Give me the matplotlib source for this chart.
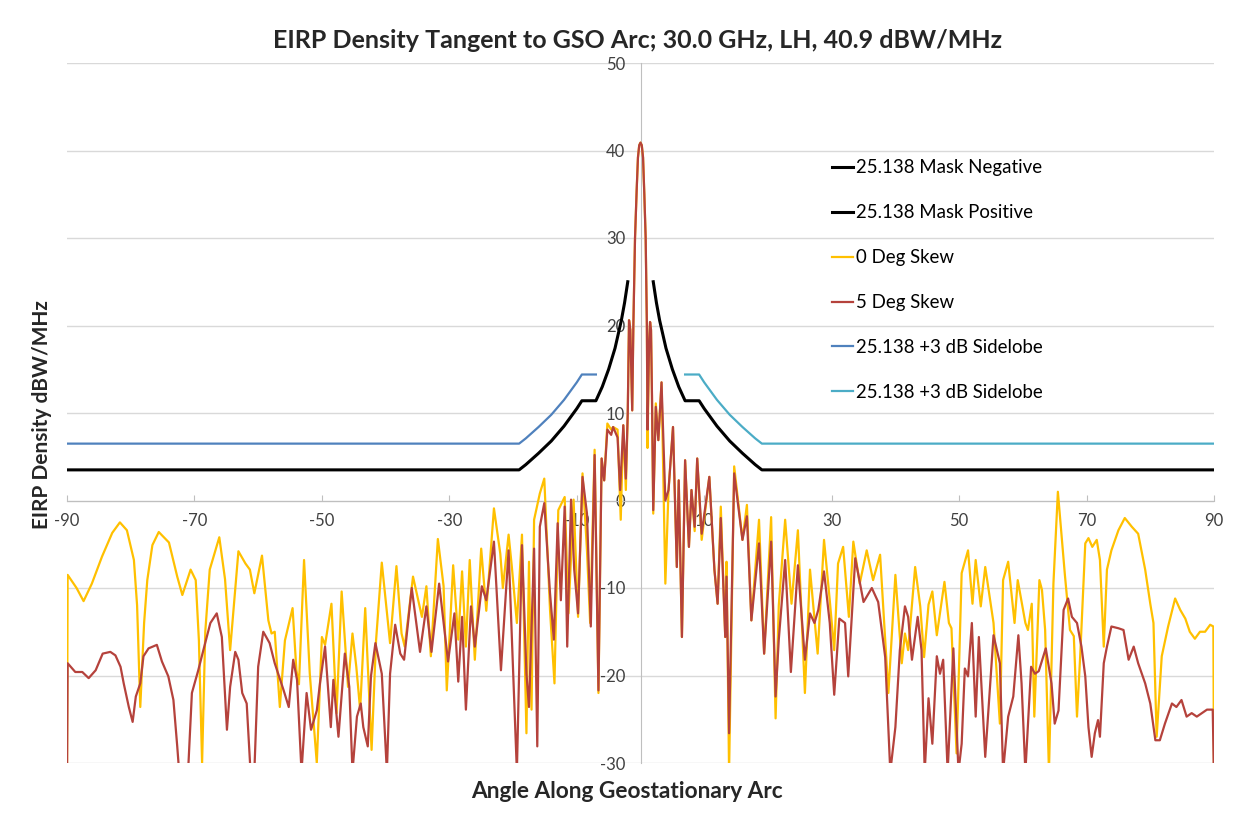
import matplotlib
matplotlib.use("Agg")
import matplotlib.pyplot as plt

plt.rcParams['font.family'] = ['Lato', 'DejaVu Sans']
plt.rcParams['axes.unicode_minus'] = False

title = "EIRP Density Tangent to GSO Arc; 30.0 GHz, LH, 40.9 dBW/MHz"
xlabel = "Angle Along Geostationary Arc"
ylabel = "EIRP Density dBW/MHz"
labels = ["25.138 Mask Negative", "25.138 Mask Positive", "0 Deg Skew",
          "5 Deg Skew", "25.138 +3 dB Sidelobe", "25.138 +3 dB Sidelobe"]
xticks = [-90, -70, -50, -30, -10, 10, 30, 50, 70, 90]
yticks = [-30, -20, -10, 0, 10, 20, 30, 40, 50]

mask_neg_x = [-90, -19.05, -18, -16, -14, -12, -10, -9.2, -7, -6, -5, -4, -3, -2.5, -2]
mask_neg_y = [3.5, 3.5, 4.1, 5.4, 6.8, 8.5, 10.5, 11.4, 11.4, 13.0, 15.0, 17.4, 20.6, 22.6, 25.0]
mask_pos_x = [2, 2.5, 3, 4, 5, 6, 7, 9.2, 10, 12, 14, 16, 18, 19.05, 90]
mask_pos_y = [25.0, 22.6, 20.6, 17.4, 15.0, 13.0, 11.4, 11.4, 10.5, 8.5, 6.8, 5.4, 4.1, 3.5, 3.5]
side_neg_x = [-90, -19.05, -18, -16, -14, -12, -10, -9.2, -7]
side_neg_y = [6.5, 6.5, 7.1, 8.4, 9.8, 11.5, 13.5, 14.4, 14.4]
side_pos_x = [7, 9.2, 10, 12, 14, 16, 18, 19.05, 90]
side_pos_y = [14.4, 14.4, 13.5, 11.5, 9.8, 8.4, 7.1, 6.5, 6.5]

gold_x = [-90.0, -89.9, -88.5, -87.4, -86.1, -84.5, -82.9, -81.7, -80.6, -79.5, -79.0, -78.5, -77.9,
          -77.4, -76.6, -75.6, -74.0, -72.7, -71.9, -70.6, -69.8, -69.3, -68.8, -68.3, -67.6, -66.1,
          -65.2, -64.4, -63.1, -62.0, -61.3, -60.6, -59.4, -58.4, -57.9, -57.4, -56.6, -55.8, -54.6,
          -54.0, -53.6, -52.8, -51.9, -50.8, -50.0, -49.5, -48.5, -47.7, -46.9, -45.9, -45.2, -44.6,
          -44.0, -43.2, -42.2, -41.5, -40.6, -39.3, -38.3, -37.5, -37.0, -35.7, -34.3, -33.6, -32.9,
          -31.8, -30.9, -30.4, -29.4, -28.6, -28.0, -27.4, -26.8, -26.0, -25.0, -24.2, -23.0, -22.0,
          -21.6, -20.7, -20.2, -19.4, -18.6, -17.9, -17.5, -17.1, -16.7, -15.8, -15.1, -14.2, -13.5,
          -12.9, -11.9, -11.3, -10.5, -9.8, -9.1, -8.4, -7.9, -7.2, -6.6, -6.1, -5.7, -5.2, -4.6,
          -4.3, -3.6, -3.1, -2.7, -2.3, -2.0, -1.8, -1.6, -1.3, -1.12, -0.86, -0.6, -0.4, -0.2, 0.0,
          0.2, 0.4, 0.6, 0.81, 1.0, 1.1, 1.35, 1.5, 1.65, 1.8, 2.0, 2.4, 2.8, 3.3, 3.9, 4.4, 5.1,
          5.7, 6.0, 6.5, 7.0, 7.6, 8.0, 8.5, 8.9, 9.6, 10.8, 11.6, 12.1, 12.6, 13.3, 13.5, 13.9,
          14.7, 16.0, 16.7, 17.4, 18.6, 19.4, 20.5, 21.2, 21.7, 22.7, 23.7, 24.7, 25.8, 26.6, 27.8,
          28.8, 29.7, 30.4, 31.0, 31.8, 32.7, 33.4, 34.4, 35.5, 36.5, 37.6, 38.9, 40.0, 41.0, 41.5,
          42.0, 43.1, 43.9, 44.5, 45.2, 45.8, 46.5, 47.7, 48.4, 48.8, 49.6, 50.4, 51.4, 52.1, 52.6,
          53.4, 54.1, 55.4, 56.4, 56.9, 57.7, 58.7, 59.2, 60.4, 60.8, 61.4, 61.8, 62.6, 63.0, 63.5,
          64.1, 64.8, 65.5, 66.6, 67.4, 68.0, 68.5, 69.0, 69.8, 70.3, 70.9, 71.6, 72.1, 72.7, 73.2,
          73.9, 75.0, 76.0, 77.1, 78.1, 79.2, 80.0, 80.5, 81.0, 81.8, 82.8, 83.9, 84.7, 85.5, 86.2,
          87.0, 87.8, 88.6, 89.4, 89.9, 90.0]
gold_y = [-32, -8.5, -10.0, -11.5, -9.5, -6.4, -3.7, -2.5, -3.4, -6.8, -12, -23.6, -14,
          -9.1, -5.1, -3.6, -4.8, -8.7, -10.8, -7.9, -9.1, -16, -30, -15, -7.9, -4.2,
          -9, -17.1, -5.8, -7.2, -7.9, -10.6, -6.3, -13.7, -15.2, -15.0, -23.6, -16.0, -12.3,
          -19.4, -21, -6.8, -19.8, -30, -15.6, -16.5, -11.8, -24.3, -10.4, -21.3, -15.2, -19,
          -23.9, -12.3, -28.5, -16, -7.1, -16.3, -7.5, -15.2, -16.7, -8.7, -13.3, -9.8, -17.8,
          -4.4, -9.8, -21.7, -7.4, -15.9, -8.1, -16.7, -6.8, -18.2, -5.5, -12.6, -0.9, -6.1,
          -10, -3.9, -7.5, -14, -3.9, -26.6, -7.0, -23.9, -2.2, 0.8, 2.5, -12.5, -20.9,
          -1.1, 0.4, -12.9, 0.1, -13.3, 3.1, -5.7, -14, 5.8, -22.0, 4.8, 2.3, 8.8, 8.1,
          8.4, 8.1, -2.2, 8.6, 1.2, 10, 20.6, 19.5, 10.3, 20, 30, 35.5, 39.2, 40.6, 40.9,
          40.6, 39.2, 35, 30, 20, 6.0, 18, 20.4, 19.5, 12, -1.5, 11.1, 6.9, 13.5, -9.5, 1.2, 8.4,
          -7.6, 2.3, -15.6, 4.6, -5.3, 1.2, -3.5, 4.8, -4.5, 2.7, -7.9, -11.8, -0.7, -15.6, -7.0, -31,
          3.9, -4.5, -0.5, -13.7, -2.2, -17.5, -1.9, -24.9, -12.0, -2.2, -11.8, -3.4, -22.0, -7.9, -17.5,
          -4.5, -11.4, -17.1, -7.2, -5.3, -13.3, -4.7, -9.5, -5.7, -9.1, -6.2, -22.0, -8.5, -18.6, -15.2,
          -17.1, -7.6, -12.1, -17.9, -11.9, -10.4, -15.4, -9.3, -14.0, -14.6, -28.9, -8.3, -5.7, -11.8, -6.8,
          -12.1, -7.6, -14.0, -25.5, -9.1, -7.0, -14.0, -9.1, -14.0, -14.8, -11.8, -24.7, -9.1, -10.2, -14.8,
          -31, -9.5, 1.0, -8.5, -14.8, -15.5, -24.7, -17.8, -4.9, -4.3, -5.3, -4.5, -6.8, -16.7, -7.9,
          -5.7, -3.4, -2.0, -3.0, -3.8, -7.9, -11.8, -14.0, -27, -17.8, -14.4, -11.2, -12.5, -13.5, -15.0,
          -15.8, -15.0, -15.0, -14.2, -14.4, -32]

red_x = [-90.0, -89.9, -88.7, -87.6, -86.6, -85.5, -84.4, -83.2, -82.4, -81.6, -81.1, -80.3, -79.7,
         -79.2, -78.5, -78.0, -77.2, -75.9, -75.1, -74.1, -73.3, -72.7, -72.4, -71.0, -70.4, -69.4,
         -68.6, -67.5, -66.5, -65.7, -64.9, -64.4, -63.6, -63.1, -62.5, -61.8, -61.2, -60.6, -60.0,
         -59.2, -58.2, -57.4, -56.0, -55.2, -54.5, -53.9, -53.2, -52.4, -51.7, -50.8, -50.3, -49.5,
         -48.6, -48.2, -47.4, -46.4, -45.7, -45.2, -44.5, -43.9, -43.5, -42.8, -42.3, -41.6, -40.6,
         -39.8, -39.3, -38.5, -37.7, -37.1, -35.9, -34.6, -33.6, -32.8, -31.6, -30.2, -29.2, -28.6,
         -28.0, -27.4, -26.6, -26.0, -24.9, -24.2, -23.0, -21.9, -20.7, -19.4, -18.6, -17.9, -17.5,
         -16.7, -16.2, -15.8, -15.1, -14.2, -13.6, -13.0, -12.5, -11.9, -11.5, -10.9, -10.4, -9.8,
         -9.1, -8.4, -7.8, -7.2, -6.6, -6.1, -5.7, -5.2, -4.6, -4.3, -3.6, -3.2, -2.7, -2.3, -2.0,
         -1.8, -1.6, -1.3, -1.12, -0.86, -0.6, -0.4, -0.2, 0.0, 0.2, 0.4, 0.6, 0.81, 1.0, 1.1, 1.35,
         1.5, 1.65, 1.8, 2.0, 2.4, 2.8, 3.3, 3.9, 4.4, 5.1, 5.7, 6.0, 6.5, 7.0, 7.6, 8.0, 8.5, 8.9,
         9.6, 10.8, 11.6, 12.1, 12.6, 13.3, 13.5, 13.9, 14.7, 16.0, 16.7, 17.4, 18.6, 19.4, 20.5,
         21.2, 21.7, 22.7, 23.6, 24.7, 25.8, 26.6, 27.3, 27.9, 28.8, 29.7, 30.4, 31.2, 32.1, 32.6,
         33.7, 35.0, 36.3, 37.3, 38.4, 39.2, 40.0, 40.7, 41.5, 42.0, 42.6, 43.5, 44.1, 44.6, 45.2,
         45.8, 46.5, 47.0, 47.5, 48.2, 49.1, 49.9, 50.4, 50.9, 51.4, 52.0, 52.6, 53.1, 54.1, 55.4,
         56.4, 56.9, 57.7, 58.5, 59.3, 59.8, 60.4, 61.3, 61.9, 62.5, 63.6, 64.5, 65.0, 65.6, 66.4,
         67.1, 67.7, 68.5, 69.2, 69.8, 70.3, 70.8, 71.3, 71.8, 72.1, 72.7, 73.2, 73.9, 75.0, 75.8,
         76.6, 77.4, 78.1, 79.2, 80.0, 80.8, 81.5, 82.3, 83.4, 84.1, 84.9, 85.7, 86.5, 87.3, 88.1,
         88.9, 89.8, 90.0]
red_y = [-32, -18.6, -19.6, -19.6, -20.3, -19.4, -17.5, -17.3, -17.7, -19.0, -20.9, -23.6, -25.3,
         -22.4, -20.9, -17.8, -16.9, -16.5, -18.4, -20.1, -22.8, -28.1, -31, -31, -22.0, -19.4,
         -17.1, -14.0, -12.9, -15.6, -26.2, -21.3, -17.3, -18.2, -22.0, -23.2, -31, -31, -19,
         -15, -16.3, -18.6, -21.7, -23.6, -18.2, -20.5, -31, -22.0, -26.2, -24, -20.9, -16.7,
         -25.9, -20.5, -27, -17.5, -21.3, -31, -24.7, -23.2, -25.9, -28.1, -20.1, -16.3, -19.8,
         -31, -19.8, -14.2, -17.5, -18.2, -10.0, -17.3, -12.1, -17.3, -9.5, -18.4, -12.9, -20.7,
         -13.3, -23.9, -12.1, -16.7, -9.8, -11.4, -4.7, -19.4, -5.7, -31, -5.1, -19.8, -23.6,
         -5.5, -28.1, -3.0, -0.3, -10.6, -15.9, -2.6, -11.4, -0.7, -16.7, 0.1, -7.9, -12.9,
         2.7, -1.5, -14.4, 5.2, -21.7, 4.8, 2.3, 8.1, 7.5, 8.4, 7.2, 1.2, 8.6, 2.5, 10,
         20.6, 19.5, 10.3, 20, 30, 35.5, 39.2, 40.6, 40.9, 40.6, 39.2, 35, 30, 20, 8.1, 18,
         20.4, 19.5, 12, -1.1, 10.7, 6.9, 13.5, 0.0, 1.2, 8.4, -7.6, 2.3, -15.6, 4.6, -5.3, 1.2, -3.0, 4.8,
         -3.8, 2.7, -7.9, -11.8, -2.0, -15.6, -8.7, -26.6, 3.1, -4.5, -1.8, -13.7, -4.9, -17.5, -4.7,
         -22.4, -15.9, -6.8, -19.6, -7.4, -18.2, -12.9, -14.0, -12.5, -8.1, -14.0, -22.2, -13.5, -14.0, -20.1,
         -6.6, -11.6, -10.0, -11.6, -17.9, -31, -25.9, -17.1, -12.1, -13.3, -18.2, -13.3, -17.1, -31, -22.6,
         -27.8, -17.8, -19.8, -18.2, -31, -16.9, -31, -27.8, -19.2, -20.1, -14.0, -24.7, -15.6, -29.3, -15.4,
         -18.6, -31, -24.7, -22.4, -15.4, -20.9, -31, -19.0, -19.8, -19.5, -16.9, -20.9, -25.5, -24.0, -12.5,
         -11.2, -13.3, -14.0, -16.7, -20.1, -25.9, -29.3, -26.6, -25.1, -27, -18.6, -16.7, -14.4, -14.6, -14.8,
         -18.2, -16.7, -18.6, -20.9, -23.2, -27.4, -27.4, -25.5, -23.2, -23.6, -22.8, -24.7, -24.3, -24.7, -24.3,
         -23.9, -23.9, -32]

W, H = 1253, 815
fig = plt.figure(figsize=(W / 100, H / 100), dpi=100)
ax = fig.add_axes([67 / W, 1 - 763 / H, (1214 - 67) / W, (763 - 63) / H])

ax.plot(mask_neg_x, mask_neg_y, color='black', lw=2.2, label=labels[0], zorder=3)
ax.plot(mask_pos_x, mask_pos_y, color='black', lw=2.2, label=labels[1], zorder=3)
ax.plot(gold_x, gold_y, color='#FFC000', lw=1.6, label=labels[2], zorder=3,
        solid_joinstyle='round')
ax.plot(red_x, red_y, color='#B5423C', lw=1.6, label=labels[3], zorder=3,
        solid_joinstyle='round')
ax.plot(side_neg_x, side_neg_y, color='#4F81BD', lw=1.6, label=labels[4], zorder=3)
ax.plot(side_pos_x, side_pos_y, color='#4BACC6', lw=1.6, label=labels[5], zorder=3)

ax.set_xlim(-90, 90)
ax.set_ylim(-30, 50)
ax.set_xticks(xticks)
ax.set_yticks(yticks)
ax.yaxis.grid(True, color='#D9D9D9', lw=1)
ax.set_axisbelow(True)

for s in ['top', 'right']:
    ax.spines[s].set_visible(False)
ax.spines['left'].set_position(('data', 0))
ax.spines['bottom'].set_position(('data', 0))
ax.spines['left'].set_color('#BFBFBF')
ax.spines['bottom'].set_color('#BFBFBF')
ax.spines['left'].set_zorder(1)
ax.spines['bottom'].set_zorder(1)
ax.tick_params(axis='y', length=0, pad=11, labelsize=12, labelcolor='#404040')
ax.tick_params(axis='x', length=4, direction='in', color='#BFBFBF', pad=9,
               labelsize=12, labelcolor='#404040')

fig.text(638 / W, 1 - 40 / H, title, ha='center', va='center', fontsize=18,
         fontweight='bold', color='#262626')
fig.text(627 / W, 1 - 792 / H, xlabel, ha='center', va='center', fontsize=16.3,
         fontweight='bold', color='#262626')
fig.text(42 / W, 1 - 415 / H, ylabel, ha='center', va='center', fontsize=15,
         fontweight='bold', color='#262626', rotation=90)

ax.legend(loc='upper left', bbox_to_anchor=(823 / W, 1 - 150 / H), bbox_transform=fig.transFigure,
          frameon=False, fontsize=13.4, handlelength=1.1, handletextpad=0.2,
          labelspacing=1.5, borderpad=0)

fig.savefig('out.png', dpi=100)
